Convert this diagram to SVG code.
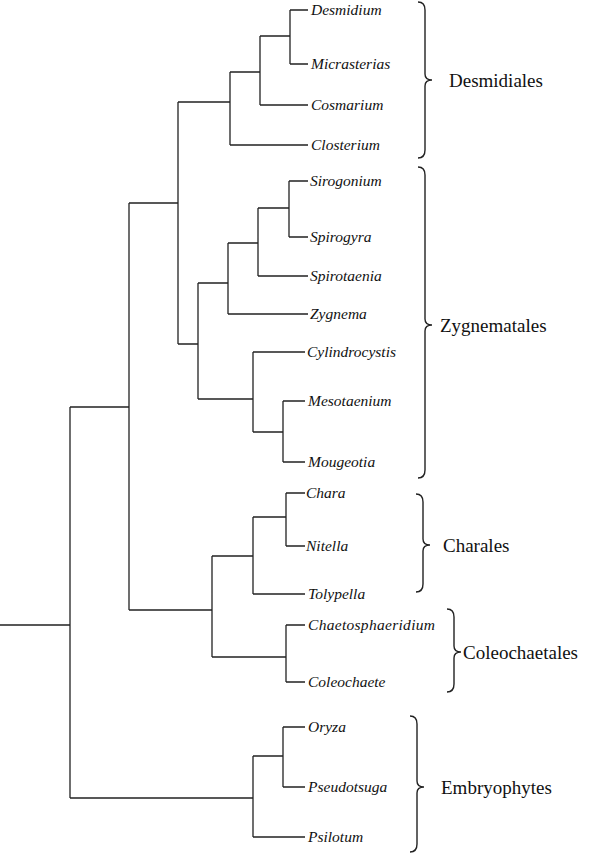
<svg xmlns="http://www.w3.org/2000/svg" width="605" height="853" viewBox="0 0 605 853">
<style>
.t{font-family:"Liberation Serif",serif;font-style:italic;font-size:15.5px;fill:#111}
.g{font-family:"Liberation Serif",serif;font-size:19px;fill:#111}
.e{fill:none;stroke:#222;stroke-width:1.3}
.b{fill:none;stroke:#222;stroke-width:1.4}
</style>
<rect width="605" height="853" fill="#fff"/>
<g id="connectors" class="e">
<path d="M0,625H70M70,407V798M70,407H129M70,798H253"/>
<path d="M129,203V610M129,203H178M129,610H212"/>
<path d="M178,102V344M178,102H230M178,344H198"/>
<path d="M230,72V145M230,72H260M230,145H308M260,36V105M260,36H290M260,105H308M290,10V64M290,10H308M290,64H308"/>
<path d="M198,283V399M198,283H228M198,399H253"/>
<path d="M228,243V314M228,243H258M228,314H308M258,208V276M258,208H289M258,276H308M289,181V237M289,181H308M289,237H308"/>
<path d="M253,352V432M253,352H305M253,432H283M283,401V462M283,401H305M283,462H305"/>
<path d="M212,556V657M212,556H253M212,657H286M253,517V594M253,517H286M253,594H305M286,493V546M286,493H305M286,546H305M286,625V682M286,625H305M286,682H305"/>
<path d="M253,756V837M253,756H283M253,837H305M283,727V787M283,727H305M283,787H305"/>
</g>
<g id="leaves" class="t">
<text x="311" y="15">Desmidium</text>
<text x="311" y="69">Micrasterias</text>
<text x="311" y="110">Cosmarium</text>
<text x="311" y="150">Closterium</text>
<text x="310" y="186">Sirogonium</text>
<text x="310" y="242">Spirogyra</text>
<text x="310" y="281">Spirotaenia</text>
<text x="310" y="319">Zygnema</text>
<text x="307" y="357">Cylindrocystis</text>
<text x="308" y="406">Mesotaenium</text>
<text x="308" y="467">Mougeotia</text>
<text x="306" y="498">Chara</text>
<text x="306" y="551">Nitella</text>
<text x="308" y="599">Tolypella</text>
<text x="308" y="630" textLength="127">Chaetosphaeridium</text>
<text x="308" y="687">Coleochaete</text>
<text x="308" y="732">Oryza</text>
<text x="308" y="792">Pseudotsuga</text>
<text x="308" y="842">Psilotum</text>
</g>
<g id="desmidiales"><path class="b" d="M418,2Q425,2 425,10L425,74Q425,80 432,80Q425,80 425,86L425,150Q425,158 418,158"/><text class="g" x="449" y="87">Desmidiales</text></g>
<g id="zygnematales"><path class="b" d="M418,167Q425,167 425,175L425,319Q425,325 432,325Q425,325 425,331L425,470Q425,478 418,478"/><text class="g" x="440" y="332">Zygnematales</text></g>
<g id="charales"><path class="b" d="M416,494Q423,494 423,502L423,539Q423,545 430,545Q423,545 423,551L423,584Q423,592 416,592"/><text class="g" x="443" y="552">Charales</text></g>
<g id="coleochaetales"><path class="b" d="M447,609Q454,609 454,617L454,646Q454,652 461,652Q454,652 454,658L454,684Q454,692 447,692"/><text class="g" x="463" y="659">Coleochaetales</text></g>
<g id="embryophytes"><path class="b" d="M410,716Q417,716 417,724L417,781Q417,787 424,787Q417,787 417,793L417,844Q417,852 410,852"/><text class="g" x="441" y="794">Embryophytes</text></g>
</svg>
